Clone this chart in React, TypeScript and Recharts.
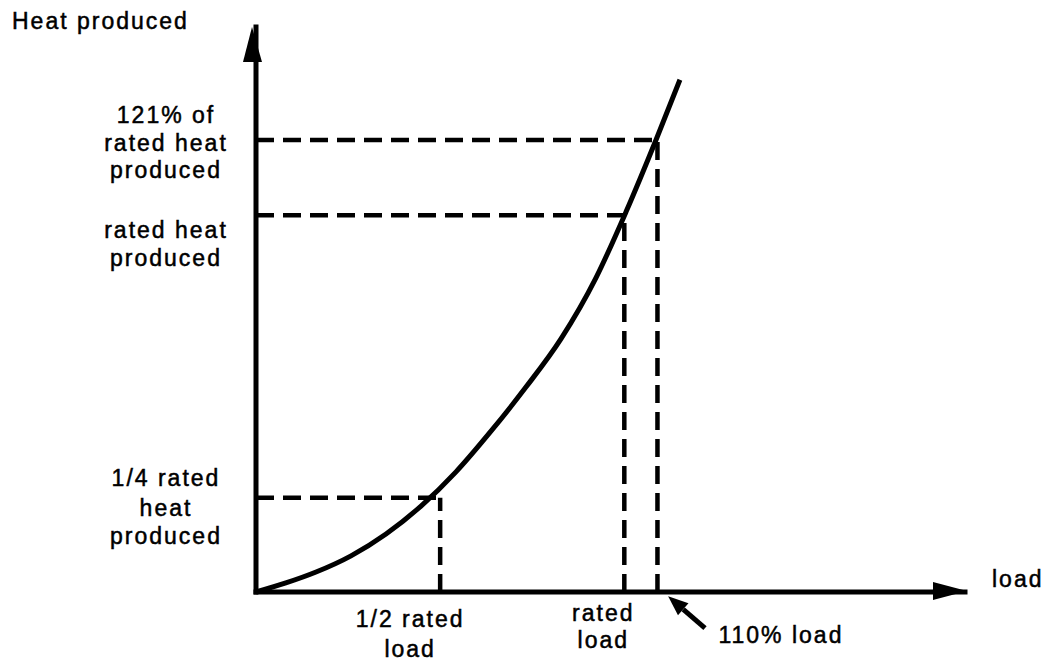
import { ComposedChart, Line, XAxis, YAxis, ReferenceLine, ReferenceDot } from 'recharts';

// heat vs load curve (load and heat as fraction of rated)
const LOAD = [0, 0.081, 0.163, 0.258, 0.353, 0.448, 0.543, 0.638, 0.733, 0.828, 0.923, 1.005, 1.086, 1.151];
const HEAT = [0, 0.024, 0.053, 0.096, 0.154, 0.228, 0.319, 0.427, 0.544, 0.672, 0.834, 1.01, 1.2, 1.36];

// dashed guide points
const GUIDE_LOAD = [0.5, 1.0, 1.09];
const GUIDE_HEAT = [0.25, 1.0, 1.2];

const Y_LABELS = [
  ['1/4 rated', 'heat', 'produced'],
  ['rated heat', 'produced'],
  ['121% of', 'rated heat', 'produced'],
];
const X_LABELS = [['1/2 rated', 'load'], ['rated', 'load'], ['110% load']];

const X_MAX = 1.925;
const Y_MAX = 1.5;

const data = LOAD.map((l, i) => ({ load: l, heat: HEAT[i] }));

const FONT = {
  fontFamily: '"Liberation Sans", Arial, sans-serif',
  fontSize: 23,
  letterSpacing: 2,
  fill: '#000',
  stroke: '#000',
  strokeWidth: 0.5,
};

// baseline offsets for each label block, relative to its tick
const Y_BASELINES = [[-12, 18, 46], [23, 51], [-17, 11, 38]];
const X_LAYOUT = [
  { dx: -30, anchor: 'middle', base: [35, 65] },
  { dx: -21, anchor: 'middle', base: [29, 56] },
  { dx: 61, anchor: 'start', base: [51] },
];

const YTick = (props: any) => {
  const { x, y, payload } = props;
  const i = GUIDE_HEAT.indexOf(payload.value);
  if (i < 0) return null;
  return (
    <g>
      {Y_LABELS[i].map((t, k) => (
        <text key={k} x={x - 90} y={y + Y_BASELINES[i][k]} textAnchor="middle" {...FONT}>
          {t}
        </text>
      ))}
    </g>
  );
};

const XTick = (props: any) => {
  const { x, y, payload } = props;
  const i = GUIDE_LOAD.indexOf(payload.value);
  if (i < 0) return null;
  const lay = X_LAYOUT[i];
  return (
    <g>
      {X_LABELS[i].map((t, k) => (
        <text key={k} x={x + lay.dx} y={y + lay.base[k]} textAnchor={lay.anchor as any} {...FONT}>
          {t}
        </text>
      ))}
    </g>
  );
};

const ArrowRight = (props: any) => {
  const { cx, cy } = props;
  return (
    <g>
      <polygon points={`${cx + 2},${cy - 1} ${cx - 32},${cy - 10} ${cx - 32},${cy + 8}`} fill="#000" />
      <text x={cx + 27} y={cy - 5} {...FONT}>load</text>
    </g>
  );
};

const ArrowUp = (props: any) => {
  const { cx, cy } = props;
  return (
    <g>
      <polygon points={`${cx - 4},${cy} ${cx - 13},${cy + 35} ${cx + 6},${cy + 35}`} fill="#000" />
      <text x={cx - 244} y={cy + 2} {...FONT}>Heat produced</text>
    </g>
  );
};

const Pointer = (props: any) => {
  const { x1, y1, x2, y2 } = props;
  const ang = Math.atan2(y1 - y2, x1 - x2);
  const len = 20;
  const w = 8;
  const bx = x1 - Math.cos(ang) * len;
  const by = y1 - Math.sin(ang) * len;
  const px = -Math.sin(ang) * w;
  const py = Math.cos(ang) * w;
  return (
    <g>
      <line x1={bx} y1={by} x2={x2} y2={y2} stroke="#000" strokeWidth={5} />
      <polygon points={`${x1},${y1} ${bx + px},${by + py} ${bx - px},${by - py}`} fill="#000" />
    </g>
  );
};

const dash = { stroke: '#000', strokeWidth: 4.5, strokeDasharray: '18 9' };

export default function App() {
  return (
    <div style={{ position: 'absolute', left: 0, top: 0, width: 1045, height: 662, background: '#fff' }}>
      <ComposedChart
        width={1045}
        height={662}
        data={data}
        margin={{ top: 27, right: 80, bottom: 0, left: 0 }}
      >
        <XAxis
          dataKey="load"
          type="number"
          domain={[0, X_MAX]}
          ticks={GUIDE_LOAD}
          interval={0}
          height={70}
          tickSize={0}
          tickMargin={0}
          tickLine={false}
          axisLine={{ stroke: '#000', strokeWidth: 5, strokeLinecap: 'square' }}
          tick={<XTick />}
        />
        <YAxis
          type="number"
          domain={[0, Y_MAX]}
          ticks={GUIDE_HEAT}
          interval={0}
          width={256}
          tickSize={0}
          tickMargin={0}
          tickLine={false}
          axisLine={{ stroke: '#000', strokeWidth: 5, strokeLinecap: 'square' }}
          tick={<YTick />}
        />
        {GUIDE_LOAD.map((l, i) => (
          <ReferenceLine
            key={`h${i}`}
            segment={[{ x: 0, y: GUIDE_HEAT[i] }, { x: l, y: GUIDE_HEAT[i] }]}
            {...dash}
          />
        ))}
        {GUIDE_LOAD.map((l, i) => (
          <ReferenceLine
            key={`v${i}`}
            segment={[{ x: l, y: 0 }, { x: l, y: GUIDE_HEAT[i] }]}
            {...dash}
          />
        ))}
        <Line
          dataKey="heat"
          type="monotone"
          stroke="#000"
          strokeWidth={5}
          dot={false}
          isAnimationActive={false}
        />
        <ReferenceLine
          segment={[{ x: 1.119, y: -0.011 }, { x: 1.219, y: -0.096 }]}
          ifOverflow="visible"
          shape={<Pointer />}
        />
        <ReferenceDot x={X_MAX} y={0} r={1} ifOverflow="visible" shape={<ArrowRight />} />
        <ReferenceDot x={0} y={Y_MAX} r={1} ifOverflow="visible" shape={<ArrowUp />} />
      </ComposedChart>
    </div>
  );
}
